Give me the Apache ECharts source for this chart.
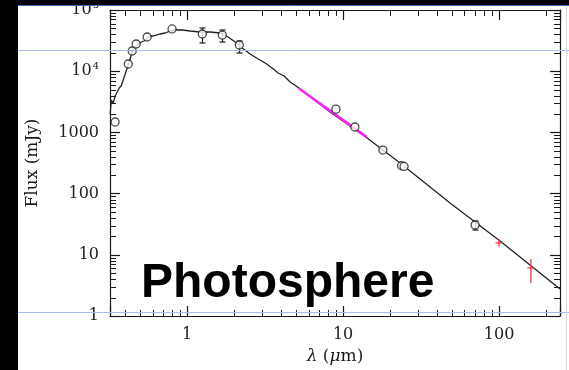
<!DOCTYPE html>
<html><head><meta charset="utf-8">
<script src="https://cdn.jsdelivr.net/npm/echarts@6/dist/echarts.min.js"></script>
<style>html,body{margin:0;padding:0;background:#fff}#c{width:569px;height:370px}</style>
</head><body><div id="c"></div>
<script>
// ---- data ----
const MODEL_LAMBDA = [0.321,0.326,0.3355,0.3455,0.3558,0.3665,0.3775,0.389,0.4005,0.4125,0.4248,0.4375,0.4506,0.464,0.478,0.4923,0.507,0.530,0.554,0.579,0.605,0.633,0.671,0.723,0.778,0.838,0.929,1.045,1.211,1.404,1.627,1.832,2.031,2.252,2.534,2.852,3.162,3.507,3.832,4.186,4.574,4.996,5.30,8.25,14.25,23.2,48.5,101.5,246];
const MODEL_FLUX = [2000,3380,3020,3935,3650,5310,5730,7180,7740,11270,14130,18400,23070,25820,26800,27800,30000,31150,34850,37600,37600,39000,40550,42100,45400,47100,47100,45400,43700,43700,42100,36200,30000,23900,19100,15800,13600,11270,9350,8350,6670,5730,5120,2150,810,316,70.2,16.8,2.76];

const IRS_LAMBDA = [5.2,6,7,8,9,10,11,12,13,14.2];
const IRS_FLUX = [5250,4050,3060,2400,1940,1600,1340,1140,990,840];

const PHOT_LAMBDA = [0.345,0.419,0.444,0.471,0.554,0.80,1.25,1.68,2.16,9.0,11.9,18.0,23.7,24.6,70.2];
const PHOT_FLUX = [1480,13100,21400,27800,36200,49000,40500,39000,26800,2400,1225,515,285,278,30.7];

const ERR_LAMBDA = [1.25,1.68,2.16,70.2];
const ERR_LOW = [28900,30000,19800,25.4];
const ERR_HIGH = [50800,47100,31150,35.6];

const RED_LAMBDA = [100,160];
const RED_FLUX = [15.6,6.1];
const RED_LOW = [13.5,3.46];
const RED_HIGH = [18.1,8.5];

const X_MIN = 0.32, X_MAX = 246;
const Y_MIN = 1, Y_MAX = 100000;
const X_MINOR = [0.4,0.5,0.6,0.7,0.8,0.9,2,3,4,5,6,7,8,9,20,30,40,50,60,70,80,90,200];
const Y_MINOR = [];
[1,10,100,1000,10000].forEach(d=>[2,3,4,5,6,7,8,9].forEach(m=>Y_MINOR.push(d*m)));

const X_TITLE = '{i|λ} ({i|μ}m)';
const Y_TITLE = 'Flux (mJy)';
const LABEL_TEXT = 'Photosphere';

// ---- chart ----
const chart = echarts.init(document.getElementById('c'));
const serif = "'DejaVu Serif', serif";
const ink = '#1a1a1a';
const isDecade = v => Math.abs(Math.log10(v) - Math.round(Math.log10(v))) < 1e-6;
const zip2 = (a,b) => a.map((v,i)=>[v,b[i]]);

function baseAxis(extra){
  return Object.assign({
    type:'log', logBase:10,
    axisLine:{show:true, lineStyle:{color:ink, width:1.2}},
    axisTick:{show:true, inside:true, length:10, lineStyle:{color:ink, width:1.2}},
    minorTick:{show:false}, splitLine:{show:false}, minorSplitLine:{show:false}
  }, extra);
}

const crisp = v => Math.round(v) + 0.5;

const option = {
  backgroundColor:'#ffffff',
  animation:false,
  grid:{left:110, right:9, top:10, bottom:54, containLabel:false},
  xAxis:[
    baseAxis({position:'bottom', min:X_MIN, max:X_MAX,
      name:X_TITLE, nameLocation:'middle', nameGap:31,
      nameTextStyle:{fontFamily:serif, fontSize:17, color:ink, rich:{i:{fontFamily:serif, fontStyle:'italic', fontSize:17, color:ink}}},
      axisLabel:{show:true, margin:11, fontFamily:serif, fontSize:16, color:'#222',
        formatter:v=>isDecade(v)? String(Math.round(v)) : ''}}),
    baseAxis({position:'top', min:X_MIN, max:X_MAX, axisLabel:{show:false}})
  ],
  yAxis:[
    baseAxis({position:'left', min:Y_MIN, max:Y_MAX,
      name:Y_TITLE, nameLocation:'middle', nameRotate:90, nameGap:69,
      nameTextStyle:{fontFamily:serif, fontSize:17, color:ink},
      axisLabel:{show:true, margin:11, fontFamily:serif, fontSize:16, color:'#222',
        formatter:v=>{
          if(!isDecade(v)) return '';
          const e = Math.round(Math.log10(v));
          return e>=4 ? '10{sup|'+e+'}' : String(Math.round(v));
        },
        rich:{sup:{fontFamily:serif, fontSize:10, color:'#222', verticalAlign:'top', padding:[0,0,9,1]}}}}),
    baseAxis({position:'right', min:Y_MIN, max:Y_MAX, axisLabel:{show:false}})
  ],
  series:[
    {type:'custom', xAxisIndex:0, yAxisIndex:0, silent:true, z:3,
      data: X_MINOR.map(v=>[v,10]),
      renderItem:(params, api)=>{
        const cs = params.coordSys;
        const x = crisp(api.coord([api.value(0),10])[0]);
        const L = 6, st = {stroke:ink, lineWidth:1};
        return {type:'group', children:[
          {type:'line', shape:{x1:x,y1:cs.y+cs.height,x2:x,y2:cs.y+cs.height-L}, style:st},
          {type:'line', shape:{x1:x,y1:cs.y,x2:x,y2:cs.y+L}, style:st}
        ]};
      }},
    {type:'custom', xAxisIndex:0, yAxisIndex:0, silent:true, z:3,
      data: Y_MINOR.map(v=>[1,v]),
      renderItem:(params, api)=>{
        const cs = params.coordSys;
        const y = crisp(api.coord([1,api.value(1)])[1]);
        const L = 6, st = {stroke:ink, lineWidth:1};
        return {type:'group', children:[
          {type:'line', shape:{x1:cs.x,y1:y,x2:cs.x+L,y2:y}, style:st},
          {type:'line', shape:{x1:cs.x+cs.width,y1:y,x2:cs.x+cs.width-L,y2:y}, style:st}
        ]};
      }},
    {type:'line', name:'model', data:zip2(MODEL_LAMBDA, MODEL_FLUX), showSymbol:false, symbol:'none',
      lineStyle:{color:'#222', width:1.3}, z:4},
    {type:'line', name:'IRS', data:zip2(IRS_LAMBDA, IRS_FLUX), showSymbol:false, symbol:'none',
      lineStyle:{color:'#ff22ff', width:2.5}, z:5},
    {type:'custom', name:'errors', xAxisIndex:0, yAxisIndex:0, silent:true, z:6,
      data: ERR_LAMBDA.map((l,i)=>[l, ERR_LOW[i], ERR_HIGH[i]]),
      renderItem:(params, api)=>{
        const lo = api.coord([api.value(0), api.value(1)]);
        const hi = api.coord([api.value(0), api.value(2)]);
        const x = crisp(lo[0]), st = {stroke:ink, lineWidth:1.2};
        return {type:'group', children:[
          {type:'line', shape:{x1:x,y1:lo[1],x2:x,y2:hi[1]}, style:st},
          {type:'line', shape:{x1:x-3,y1:lo[1],x2:x+3,y2:lo[1]}, style:st},
          {type:'line', shape:{x1:x-3,y1:hi[1],x2:x+3,y2:hi[1]}, style:st}
        ]};
      }},
    {type:'scatter', name:'photometry', data:zip2(PHOT_LAMBDA, PHOT_FLUX), symbol:'circle', symbolSize:8,
      itemStyle:{color:'#fff', borderColor:ink, borderWidth:1.3}, z:7},
    {type:'custom', name:'far-IR', xAxisIndex:0, yAxisIndex:0, silent:true, z:8,
      data: RED_LAMBDA.map((l,i)=>[l, RED_FLUX[i], RED_LOW[i], RED_HIGH[i]]),
      renderItem:(params, api)=>{
        const c = api.coord([api.value(0), api.value(1)]);
        const lo = api.coord([api.value(0), api.value(2)]);
        const hi = api.coord([api.value(0), api.value(3)]);
        const st = {stroke:'#ff3344', lineWidth:1.3};
        return {type:'group', children:[
          {type:'line', shape:{x1:c[0],y1:lo[1],x2:c[0],y2:hi[1]}, style:st},
          {type:'line', shape:{x1:c[0]-3.5,y1:c[1],x2:c[0]+3.5,y2:c[1]}, style:st}
        ]};
      }}
  ],
  graphic:[
    {type:'text', x:141, y:284, z:50, style:{text:LABEL_TEXT, font:'bold 48px "Liberation Sans", Arial, sans-serif', fill:'#000', align:'left', verticalAlign:'middle'}},
    {type:'rect', shape:{x:0,y:0,width:569,height:5}, style:{fill:'#000'}, z:100},
    {type:'rect', shape:{x:0,y:0,width:18,height:370}, style:{fill:'#000'}, z:100},
    {type:'line', shape:{x1:18,y1:5.5,x2:569,y2:5.5}, style:{stroke:'#4a68b8',lineWidth:1}, z:100},
    {type:'line', shape:{x1:18,y1:50.5,x2:569,y2:50.5}, style:{stroke:'#a9bbe8',lineWidth:1}, z:100},
    {type:'line', shape:{x1:18,y1:312.5,x2:569,y2:312.5}, style:{stroke:'#a9bbe8',lineWidth:1}, z:100},
    {type:'line', shape:{x1:566.5,y1:6,x2:566.5,y2:370}, style:{stroke:'#d4d9e4',lineWidth:1}, z:100}
  ]
};
chart.setOption(option);
</script>
</body></html>
